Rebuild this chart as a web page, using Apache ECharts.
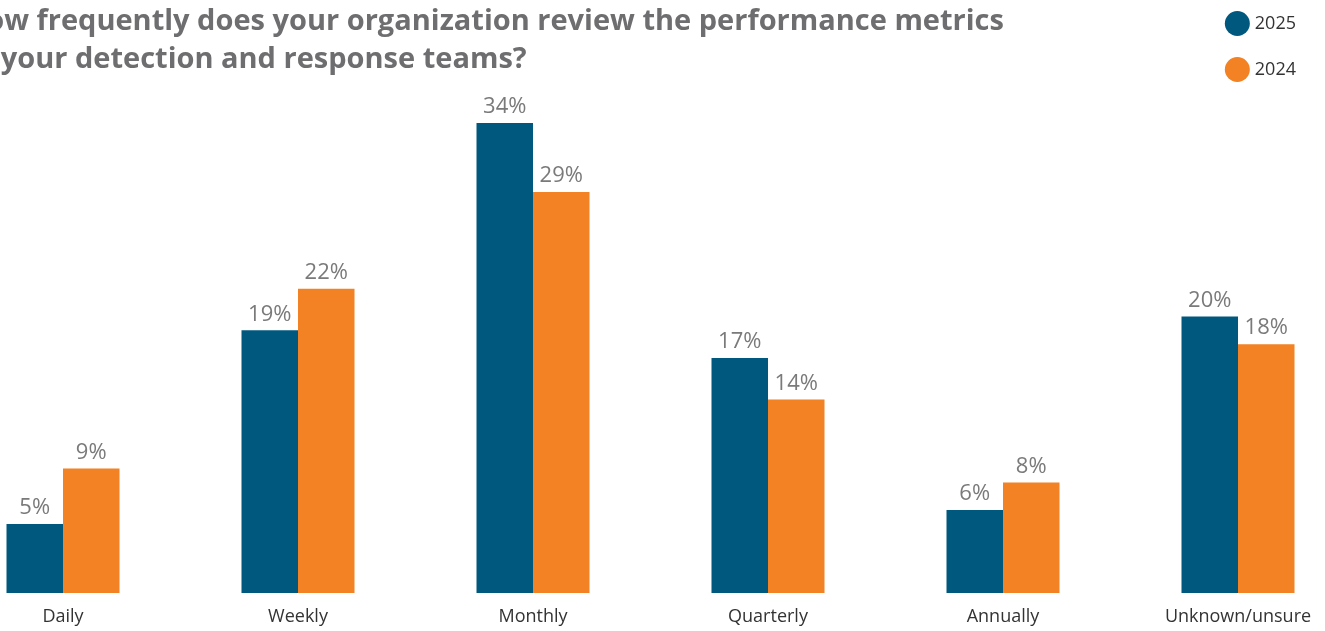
<!DOCTYPE html>
<html>
<head>
    <meta charset="UTF-8">
    <title></title>
    <style>
        html, body { margin: 0; padding: 0; background: #fff; }
        #container { width: 1325px; height: 631px; }
    </style>
</head>
<body>
    <div id="container"></div>

    <script src="https://cdn.jsdelivr.net/npm/echarts@6/dist/echarts.min.js"></script>
    <script type="text/javascript">
        var categories = ['Daily', 'Weekly', 'Monthly', 'Quarterly', 'Annually', 'Unknown/unsure'];
        var values2025 = [5, 19, 34, 17, 6, 20];
        var values2024 = [9, 22, 29, 14, 8, 18];

        var chart = echarts.init(document.getElementById('container'));

        var labelStyle = {
            show: true,
            position: 'top',
            distance: 5,
            formatter: '{c}%',
            color: '#7a7a7a',
            fontSize: 22,
            fontFamily: 'Open Sans'
        };

        var option = {
            title: {
                text: 'How frequently does your organization review the performance metrics\nof your detection and response teams?',
                left: -41,
                top: -2,
                textStyle: {
                    color: '#6e6e70',
                    fontSize: 29,
                    fontWeight: 'bold',
                    fontFamily: 'Open Sans',
                    lineHeight: 38
                }
            },
            legend: {
                orient: 'vertical',
                right: 24,
                top: 6,
                icon: 'circle',
                itemWidth: 25,
                itemHeight: 25,
                itemGap: 21,
                textStyle: { color: '#333', fontSize: 18, fontFamily: 'Open Sans' },
                data: ['2025', '2024']
            },
            grid: {
                left: -54.5,
                right: -30.5,
                top: 40,
                bottom: 38,
                outerBoundsMode: 'none'
            },
            xAxis: {
                type: 'category',
                data: categories,
                axisLine: { show: false },
                axisTick: { show: false },
                axisLabel: {
                    color: '#333',
                    fontSize: 18,
                    fontFamily: 'Open Sans',
                    margin: 15
                }
            },
            yAxis: {
                type: 'value',
                min: 0,
                max: 40,
                show: false,
                splitLine: { show: false }
            },
            series: [
                {
                    name: '2025',
                    type: 'bar',
                    data: values2025,
                    barWidth: 56.5,
                    barGap: '0%',
                    itemStyle: { color: '#00587f' },
                    label: labelStyle
                },
                {
                    name: '2024',
                    type: 'bar',
                    data: values2024,
                    barWidth: 56.5,
                    itemStyle: { color: '#f28223' },
                    label: labelStyle
                }
            ]
        };

        chart.setOption(option);
    </script>
</body>
</html>
